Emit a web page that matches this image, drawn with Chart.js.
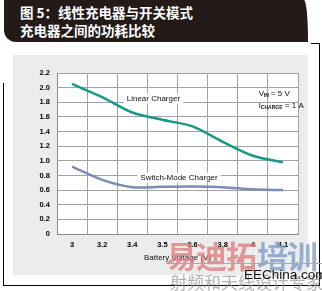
<!DOCTYPE html>
<html lang="zh">
<head>
<meta charset="UTF-8">
<title>线性充电器与开关模式充电器之间的功耗比较</title>
<script src="https://cdn.jsdelivr.net/npm/chart.js"></script>
<style>
  html, body { margin: 0; padding: 0; background: #fff; }
  body { width: 322px; height: 291px; position: relative; overflow: hidden; font-family: "Liberation Sans", Arial, sans-serif; }
  #band { position: absolute; left: 4px; top: 0; width: 304px; height: 42px; background: #241b19;
          border-bottom-left-radius: 12px; border-top-right-radius: 4px 40px; }
  #band div { position: absolute; left: 16px; color: #fff; font: bold 13.5px "Noto Sans CJK SC", sans-serif; line-height: 17px; }
  .frame { position: absolute; background: #000; }
  #panel { position: absolute; left: 13px; top: 55px; width: 295px; height: 220px; background: #ececec; }
  #chartBox { position: absolute; left: 13px; top: 55px; width: 295px; height: 220px; }
  .wm { position: absolute; font-family: "Noto Sans CJK SC", sans-serif; font-weight: bold; white-space: nowrap; }
</style>
</head>
<body>
  <div id="band">
    <div style="top:4px">图 5：线性充电器与开关模式</div>
    <div style="top:22px">充电器之间的功耗比较</div>
  </div>
  <div class="frame" style="left:3px; top:83px; width:1px; height:203px"></div>
  <div class="frame" style="left:3px; top:285px; width:317px; height:1px"></div>
  <div class="frame" style="left:319px; top:43px; width:1px; height:243px"></div>
  <div class="frame" style="left:311px; top:43px; width:9px; height:1px"></div>
  <div id="panel"></div>
  <div id="chartBox"><canvas id="powerChart" width="295" height="220"></canvas></div>

  <!-- watermark from the source picture -->
  <div class="wm" style="left:166px; top:232px; font-size:31px; color:rgba(222,125,125,0.78); letter-spacing:-1px">易迪拓</div>
  <div class="wm" style="left:257px; top:232px; font-size:31px; color:rgba(125,155,200,0.78); letter-spacing:-1px">培训</div>
  <div class="frame" style="left:166px; top:263px; width:156px; height:1px; background:#aaa"></div>
  <div class="wm" style="left:170px; top:269px; font-size:17px; color:rgba(160,160,160,0.8); font-weight:normal">射频和天线设计专家</div>
  <div class="wm" style="left:244px; top:267px; font:13.5px 'Liberation Sans', Arial, sans-serif; color:#111">EEChina.com</div>

<script>
  const voltages = ["3", "3.2", "3.4", "3.5", "3.6", "3.8", "4", "4.1"];
  const linearLoss = [2.05, 1.87, 1.66, 1.56, 1.47, 1.26, 1.07, 0.98];
  const switchLoss = [0.92, 0.74, 0.64, 0.645, 0.65, 0.64, 0.61, 0.60];
  const yTicks = [0, 0.2, 0.4, 0.6, 0.8, 1, 1.2, 1.4, 1.6, 1.8, 2, 2.2];

  const teal = "#17998a";
  const slate = "#7a8db8";

  // text labels placed in data coordinates (category index, value)
  const curveLabels = [
    { text: "Linear Charger", at: [2.7, 1.85] },
    { text: "Switch-Mode Charger", at: [3.55, 0.77] }
  ];

  const labelPlugin = {
    id: "curveLabels",
    afterDatasetsDraw(chart) {
      const { ctx, scales: { x, y } } = chart;
      ctx.save();
      ctx.font = "8px 'Liberation Sans', Arial, sans-serif";
      ctx.textBaseline = "middle";
      ctx.textAlign = "center";
      curveLabels.forEach(l => {
        const px = x.getPixelForValue(l.at[0]);
        const py = y.getPixelForValue(l.at[1]);
        const w = ctx.measureText(l.text).width + 6;
        ctx.fillStyle = "#fff";
        ctx.fillRect(px - w / 2, py - 5, w, 10);
        ctx.fillStyle = "#111";
        ctx.fillText(l.text, px, py);
      });

      // V_IN / I_CHARGE note
      const nx = x.getPixelForValue(6.2);
      const ny1 = y.getPixelForValue(1.92);
      const ny2 = y.getPixelForValue(1.75);
      ctx.textAlign = "left";
      ctx.fillStyle = "#111";
      ctx.font = "8px 'Liberation Sans', Arial, sans-serif";
      ctx.fillText("V", nx, ny1);
      ctx.font = "bold 5px 'Liberation Sans', Arial, sans-serif";
      ctx.fillText("IN", nx + 5, ny1 + 2);
      ctx.font = "8px 'Liberation Sans', Arial, sans-serif";
      ctx.fillText("= 5 V", nx + 12, ny1);
      ctx.fillText("I", nx, ny2);
      ctx.font = "bold 5px 'Liberation Sans', Arial, sans-serif";
      ctx.fillText("CHARGE", nx + 2, ny2 + 2);
      ctx.font = "8px 'Liberation Sans', Arial, sans-serif";
      ctx.fillText("= 1 A", nx + 26, ny2);
      ctx.restore();
    }
  };

  const plotBg = {
    id: "plotBg",
    beforeDraw(chart) {
      const { ctx, chartArea: a } = chart;
      ctx.save();
      ctx.fillStyle = "#fff";
      ctx.fillRect(a.left, a.top, a.right - a.left, a.bottom - a.top);
      ctx.restore();
    }
  };

  new Chart(document.getElementById("powerChart"), {
    type: "line",
    data: {
      labels: voltages,
      datasets: [
        { label: "Linear Charger", data: linearLoss, borderColor: teal, borderWidth: 2.5, pointRadius: 0, tension: 0.3 },
        { label: "Switch-Mode Charger", data: switchLoss, borderColor: slate, borderWidth: 2.5, pointRadius: 0, tension: 0.3 }
      ]
    },
    options: {
      responsive: false,
      animation: false,
      layout: { padding: { left: 0, top: 18, right: 10, bottom: 0 } },
      plugins: { legend: { display: false }, tooltip: { enabled: false } },
      scales: {
        x: {
          offset: true,
          grid: { offset: true, color: "#a3a3a3", drawTicks: false },
          border: { color: "#8a8a8a" },
          ticks: { color: "#000", padding: 6, font: { size: 7.5, weight: "bold", family: "'Liberation Sans', Arial" } },
          title: { display: true, text: "Battery Voltage (V)", color: "#111", padding: { top: 0, bottom: 12 },
                   font: { size: 8, family: "'Liberation Sans', Arial" } },
          afterFit(s) { s.height = 41; }
        },
        y: {
          min: 0, max: 2.2,
          afterBuildTicks(s) { s.ticks = yTicks.map(v => ({ value: v })); },
          grid: { color: "#a3a3a3", drawTicks: false },
          border: { color: "#8a8a8a" },
          ticks: { color: "#000", padding: 7, font: { size: 7.5, weight: "bold", family: "'Liberation Sans', Arial" } },
          afterFit(s) { s.width = 44; }
        }
      }
    },
    plugins: [plotBg, labelPlugin]
  });
</script>
</body>
</html>
